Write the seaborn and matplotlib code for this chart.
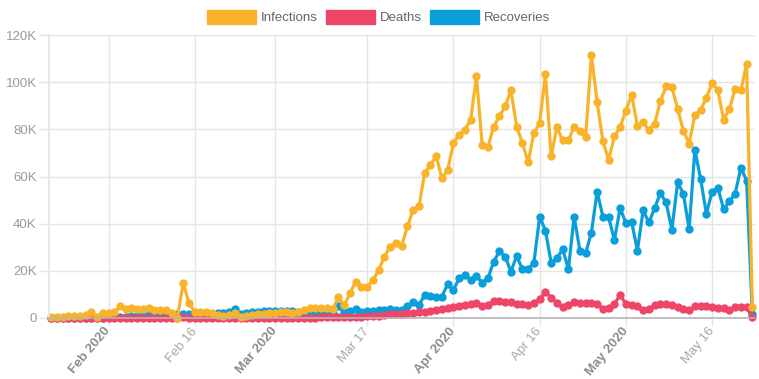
import numpy as np
import pandas as pd
import seaborn as sns
import matplotlib.pyplot as plt
from matplotlib.patches import Patch
from matplotlib.ticker import FuncFormatter

sns.set_theme(style='whitegrid')
plt.rcParams['font.family'] = ['Liberation Sans', 'DejaVu Sans']

# daily values, thousands, Jan 22 .. May 23 2020
dates = pd.date_range('2020-01-22', '2020-05-23', freq='D')

infections = [
    0.5, 0.5, 0.6, 0.7, 0.8, 1.0, 1.1, 2.7, 0.5, 2.1,
    2.1, 2.4, 4.9, 3.8, 4.4, 3.9, 3.8, 4.2, 3.5, 3.5,
    3.3, 2.3, 0.2, 15.0, 6.2, 2.7, 2.7, 2.4, 2.3, 1.1,
    1.0, 1.1, 2.3, 0.5, 0.8, 1.2, 1.6, 1.8, 2.0, 2.3,
    2.4, 2.5, 2.3, 2.7, 3.4, 4.1, 4.4, 4.4, 4.2, 3.7,
    8.8, 5.4, 10.5, 15.4, 13.0, 13.3, 16.1, 20.4, 26.0, 30.3,
    31.7, 30.6, 38.8, 45.9, 47.3, 61.4, 65.0, 68.5, 59.3, 62.8,
    74.2, 77.7, 79.8, 84.1, 102.5, 73.5, 72.5, 81.2, 85.5, 89.7,
    96.5, 81.2, 74.2, 66.0, 78.4, 82.7, 103.6, 68.5, 81.0, 75.3,
    75.3, 81.2, 79.1, 76.6, 111.7, 91.4, 74.9, 67.1, 77.0, 81.0,
    87.9, 94.7, 81.5, 82.9, 79.8, 82.4, 91.9, 98.2, 98.0, 88.6,
    79.4, 73.9, 86.2, 88.3, 93.3, 99.7, 96.5, 84.1, 88.6, 97.1,
    96.5, 107.9, 4.5,
]

deaths = [
    0.02, 0.01, 0.01, 0.02, 0.02, 0.03, 0.03, 0.03, 0.04, 0.05,
    0.05, 0.06, 0.07, 0.07, 0.08, 0.09, 0.1, 0.1, 0.1, 0.1,
    0.1, 0.1, 0.1, 0.25, 0.15, 0.1, 0.1, 0.1, 0.1, 0.1,
    0.1, 0.1, 0.1, 0.1, 0.1, 0.1, 0.1, 0.1, 0.1, 0.1,
    0.1, 0.1, 0.1, 0.15, 0.15, 0.2, 0.2, 0.25, 0.25, 0.3,
    0.35, 0.35, 0.4, 0.5, 0.55, 0.65, 0.8, 1.0, 1.2, 1.5,
    1.7, 1.7, 2.0, 2.2, 2.4, 2.7, 3.1, 3.4, 3.7, 4.1,
    4.5, 5.1, 5.5, 6.0, 6.2, 5.2, 5.5, 7.3, 7.0, 6.8,
    6.8, 6.0, 5.8, 5.5, 6.5, 8.0, 11.2, 8.5, 6.5, 4.5,
    5.5, 6.8, 6.5, 6.3, 6.3, 6.0, 3.8, 4.2, 6.0, 9.8,
    6.0, 5.5, 5.2, 3.6, 3.8, 5.5, 6.0, 5.8, 5.5, 4.5,
    3.8, 3.3, 5.0, 5.0, 4.9, 4.8, 4.3, 4.3, 3.5, 4.5,
    4.6, 4.5, 0.3,
]

recoveries = [
    0.0, 0.0, 0.0, 0.0, 0.05, 0.05, 0.1, 0.1, 0.15, 0.2,
    0.3, 0.4, 0.5, 0.6, 0.7, 0.8, 1.0, 1.2, 1.3, 1.5,
    1.6, 1.7, 1.8, 1.7, 1.9, 2.0, 1.8, 2.0, 1.9, 2.1,
    2.0, 2.4, 4.0, 1.6, 2.2, 2.6, 2.7, 2.8, 3.0, 2.9,
    2.8, 2.9, 2.8, 2.7, 2.6, 2.4, 2.0, 1.9, 1.8, 2.3,
    5.0, 2.4, 2.8, 3.8, 2.6, 2.9, 3.1, 3.2, 3.4, 3.8,
    3.5, 3.3, 5.0, 6.9, 5.5, 9.8, 9.3, 8.8, 9.1, 14.4,
    11.9, 16.8, 18.3, 16.1, 17.8, 15.0, 16.8, 23.9, 28.2, 26.0,
    19.7, 26.3, 20.7, 20.7, 23.5, 43.0, 37.1, 23.5, 25.3, 29.2,
    20.7, 43.0, 28.6, 27.5, 36.2, 53.6, 43.0, 42.7, 33.1, 46.6,
    40.2, 40.8, 28.6, 45.6, 40.5, 46.6, 52.9, 49.0, 37.4, 57.5,
    52.7, 37.6, 71.3, 58.9, 44.2, 53.6, 55.1, 46.2, 49.4, 52.7,
    63.6, 58.3, 1.5,
]

series_names = ['Infections', 'Deaths', 'Recoveries']
colors = {'Infections': '#f9b32b', 'Deaths': '#ee4668', 'Recoveries': '#0a9edb'}

tick_dates = pd.to_datetime(['2020-02-01', '2020-02-16', '2020-03-01', '2020-03-17',
                             '2020-04-01', '2020-04-16', '2020-05-01', '2020-05-16'])
tick_labels = ['Feb 2020', 'Feb 16', 'Mar 2020', 'Mar 17',
               'Apr 2020', 'Apr 16', 'May 2020', 'May 16']

df = pd.DataFrame({'date': dates,
                   'Infections': np.array(infections) * 1000,
                   'Deaths': np.array(deaths) * 1000,
                   'Recoveries': np.array(recoveries) * 1000})
long = df.melt(id_vars='date', var_name='series', value_name='cases')

fig = plt.figure(figsize=(7.59, 3.79), dpi=100)
ax = fig.add_axes([48.5 / 759, 61 / 379, 706.5 / 759, 283 / 379])

# drawn bottom to top: recoveries, deaths, infections
sns.lineplot(data=long, x='date', y='cases', hue='series',
             hue_order=['Recoveries', 'Deaths', 'Infections'],
             palette=colors, marker='o', markersize=6, markeredgewidth=0,
             linewidth=2.3, legend=False, clip_on=False, ax=ax)

ax.set_xlim(dates[0] - pd.Timedelta(hours=10.5), dates[-1] + pd.Timedelta(hours=11))
ax.set_ylim(0, 120000)
ax.set_yticks(np.arange(0, 120001, 20000))
ax.yaxis.set_major_formatter(FuncFormatter(lambda v, p: '0' if v == 0 else f'{int(v / 1000)}K'))
ax.set_xticks(tick_dates)
ax.set_xticklabels(tick_labels)
ax.set_xlabel('')
ax.set_ylabel('')

ax.grid(True, color='#e5e5e5', linewidth=1)
for side in ['top', 'right']:
    ax.spines[side].set_visible(False)
ax.spines['left'].set_color('#e5e5e5')
ax.spines['bottom'].set_color('#b5b5b5')
ax.spines['bottom'].set_linewidth(1.2)

ax.tick_params(axis='y', length=7, width=1, color='#e5e5e5', labelcolor='#9a9a9a',
               labelsize=9.5, pad=1.5, left=True)
ax.tick_params(axis='x', length=6, width=1, color='#e5e5e5', labelsize=9.5, pad=2, bottom=True)

for lbl in ax.get_xticklabels():
    lbl.set_rotation(50)
    lbl.set_ha('right')
    lbl.set_va('center')
    lbl.set_rotation_mode('anchor')
    if '2020' in lbl.get_text():
        lbl.set_fontweight('bold')
        lbl.set_color('#8c8c8c')
    else:
        lbl.set_color('#a8a8a8')

handles = [Patch(facecolor=colors[s], edgecolor=colors[s]) for s in series_names]
fig.legend(handles, series_names, loc='center', bbox_to_anchor=(0.4987, 0.955),
           ncol=3, frameon=False, fontsize=9.5, handlelength=3.7, handleheight=1.25,
           handletextpad=0.4, columnspacing=0.6, labelcolor='#666666')

fig.savefig('out.png', dpi=100)
